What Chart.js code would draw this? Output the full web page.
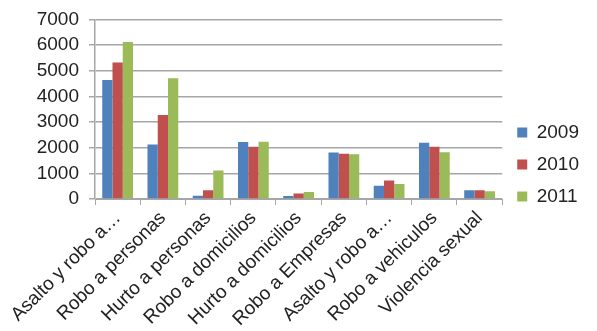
<!DOCTYPE html>
<html lang="es">
<head>
<meta charset="UTF-8">
<title>Delitos 2009-2011</title>
<script src="https://cdn.jsdelivr.net/npm/chart.js"></script>
<style>
    html, body { margin: 0; padding: 0; background: #fff; }
    .wrap { width: 597px; height: 331px; position: relative; }
</style>
</head>
<body>
<div class="wrap"><canvas id="chart"></canvas></div>
<script>
    const categories = ['Asalto y robo a…', 'Robo a personas', 'Hurto a personas', 'Robo a domicilios',
        'Hurto a domicilios', 'Robo a Empresas', 'Asalto y robo a…', 'Robo a vehiculos', 'Violencia sexual'];
    const years = ['2009', '2010', '2011'];
    const v2009 = [4640, 2130, 130, 2220, 115, 1810, 520, 2195, 345];
    const v2010 = [5320, 3280, 345, 2040, 215, 1760, 725, 2040, 345];
    const v2011 = [6120, 4705, 1110, 2230, 270, 1750, 585, 1825, 305];
    const yTicks = [0, 1000, 2000, 3000, 4000, 5000, 6000, 7000];

    const colors = ['#4F81BD', '#C0504D', '#9BBB59'];
    const series = [v2009, v2010, v2011];
    const gridColor = '#a6a6a6';
    const textColor = '#222';
    const family = 'Liberation Sans, Arial, sans-serif';

    // nudge the legend a little to the right after the plot area has been laid out
    const legendShift = {
        id: 'legendShift',
        afterLayout(chart) {
            chart.legend.left += 2;
            chart.legend.right += 2;
        }
    };

    new Chart(document.getElementById('chart'), {
        type: 'bar',
        data: {
            labels: categories,
            datasets: years.map((y, i) => ({
                label: y,
                data: series[i],
                backgroundColor: colors[i],
                borderWidth: 0,
                categoryPercentage: 0.68,
                barPercentage: 1
            }))
        },
        plugins: [legendShift],
        options: {
            responsive: true,
            maintainAspectRatio: false,
            animation: false,
            layout: { padding: { top: -2, right: 10, left: 0, bottom: 0 } },
            plugins: {
                tooltip: { enabled: false },
                legend: {
                    position: 'right',
                    labels: {
                        boxWidth: 10,
                        boxHeight: 10,
                        padding: 13,
                        color: textColor,
                        font: { family: family, size: 19 }
                    }
                }
            },
            scales: {
                x: {
                    offset: true,
                    afterFit: axis => { axis.height = 132; },
                    grid: {
                        offset: true,
                        drawOnChartArea: false,
                        drawTicks: true,
                        tickLength: 6,
                        color: gridColor
                    },
                    border: { color: gridColor, width: 1 },
                    ticks: {
                        minRotation: 45,
                        maxRotation: 45,
                        autoSkip: false,
                        padding: 2,
                        color: textColor,
                        font: { family: family, size: 19 }
                    }
                },
                y: {
                    min: 0,
                    max: 7000,
                    afterFit: axis => { axis.width = 95; },
                    afterBuildTicks: axis => { axis.ticks = yTicks.map(v => ({ value: v })); },
                    grid: { color: gridColor, lineWidth: 1.5, tickLength: 6 },
                    border: { color: gridColor, width: 1.5 },
                    ticks: {
                        padding: 10,
                        color: textColor,
                        font: { family: family, size: 19, lineHeight: 1 },
                        callback: v => String(v)
                    }
                }
            }
        }
    });
</script>
</body>
</html>
